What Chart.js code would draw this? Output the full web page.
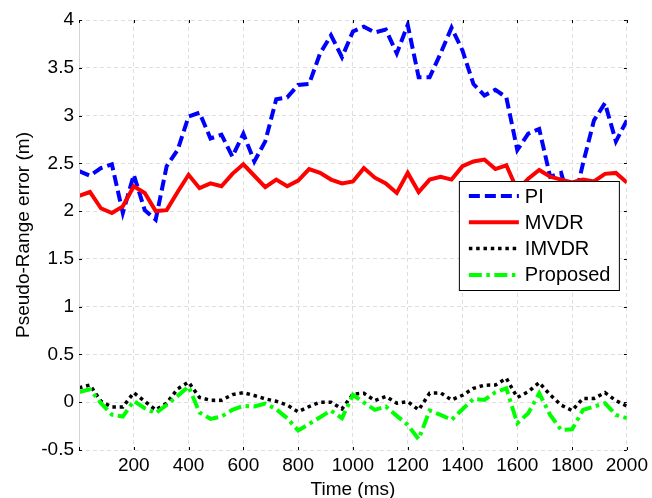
<!DOCTYPE html>
<html>
<head>
<meta charset="utf-8">
<script src="https://cdn.jsdelivr.net/npm/chart.js@4.4.1/dist/chart.umd.min.js"></script>
<style>
  html, body { margin: 0; padding: 0; background: #fff; }
  #wrap { width: 652px; height: 498px; }
</style>
</head>
<body>
<div id="wrap"><canvas id="c" width="652" height="498"></canvas></div>
<script>
// ---- data ----
const timeMs = [0, 40, 80, 120, 160, 200, 240, 280, 320, 360, 400, 440, 480, 520, 560, 600, 640, 680, 720, 760,
  800, 840, 880, 920, 960, 1000, 1040, 1080, 1120, 1160, 1200, 1240, 1280, 1320, 1360, 1400, 1440, 1480, 1520, 1560,
  1600, 1640, 1680, 1720, 1760, 1800, 1840, 1880, 1920, 1960, 2000];

const piErr = [2.42, 2.37, 2.45, 2.49, 1.98, 2.38, 2.01, 1.91, 2.47, 2.64, 2.99, 3.03, 2.76, 2.80, 2.57, 2.81, 2.52, 2.73, 3.17, 3.19,
  3.32, 3.33, 3.65, 3.84, 3.61, 3.88, 3.93, 3.87, 3.90, 3.65, 3.95, 3.40, 3.40, 3.65, 3.92, 3.68, 3.33, 3.21, 3.27, 3.19,
  2.64, 2.81, 2.86, 2.36, 2.40, 2.00, 2.50, 2.95, 3.13, 2.73, 2.95];

const mvdrErr = [2.16, 2.20, 2.03, 1.98, 2.05, 2.26, 2.19, 2.00, 2.01, 2.20, 2.38, 2.24, 2.29, 2.26, 2.39, 2.49, 2.37, 2.25, 2.33, 2.26,
  2.32, 2.44, 2.40, 2.33, 2.29, 2.31, 2.45, 2.35, 2.29, 2.19, 2.40, 2.20, 2.33, 2.36, 2.33, 2.47, 2.52, 2.54, 2.44, 2.48,
  2.22, 2.34, 2.43, 2.36, 2.33, 2.30, 2.33, 2.31, 2.39, 2.40, 2.30];

const imvdrErr = [0.15, 0.18, 0.01, -0.05, -0.05, 0.10, 0.01, -0.08, -0.01, 0.14, 0.21, 0.05, 0.02, 0.02, 0.08, 0.10, 0.07, 0.035, 0.01, -0.03,
  -0.10, -0.045, 0.00, 0.00, -0.07, 0.085, 0.094, 0.017, 0.06, -0.01, 0.007, -0.08, 0.094, 0.098, 0.024, 0.073, 0.146, 0.178, 0.18, 0.25,
  0.05, 0.11, 0.205, 0.077, -0.03, -0.087, 0.04, 0.04, 0.10, 0.017, -0.04];

const proposedErr = [0.105, 0.136, -0.01, -0.13, -0.15, 0.014, -0.063, -0.115, -0.028, 0.066, 0.164, -0.108, -0.174, -0.15, -0.08, -0.038, -0.045, -0.014, -0.073, -0.167,
  -0.296, -0.227, -0.157, -0.087, -0.167, 0.077, -0.003, -0.08, -0.045, -0.143, -0.237, -0.387, -0.087, -0.133, -0.185, -0.073, 0.035, 0.024, 0.105, 0.146,
  -0.22, -0.115, 0.094, -0.133, -0.29, -0.283, -0.08, -0.045, -0.01, -0.133, -0.167];

const seriesNames = ['PI', 'MVDR', 'IMVDR', 'Proposed'];
const xTickValues = [0, 200, 400, 600, 800, 1000, 1200, 1400, 1600, 1800, 2000];
const yTickValues = [-0.5, 0, 0.5, 1, 1.5, 2, 2.5, 3, 3.5, 4];

// ---- chart ----
const FONT = "'Liberation Sans', Arial, Helvetica, sans-serif";
const toPts = arr => arr.map((v, i) => ({ x: timeMs[i], y: v }));

const frameAndLegend = {
  id: 'frameAndLegend',
  afterDatasetsDraw(chart) {
    const { ctx, chartArea: a, scales } = chart;
    ctx.save();
    // left solid axis line (light)
    ctx.strokeStyle = '#d4d4d4';
    ctx.lineWidth = 1;
    ctx.setLineDash([]);
    ctx.beginPath();
    ctx.moveTo(a.left + 0.5, a.top);
    ctx.lineTo(a.left + 0.5, a.bottom);
    ctx.stroke();
    // tiny black ticks, inside, on all four sides
    ctx.strokeStyle = '#000';
    ctx.beginPath();
    xTickValues.forEach(v => {
      const px = Math.round(scales.x.getPixelForValue(v)) + 0.5;
      ctx.moveTo(px, a.bottom); ctx.lineTo(px, a.bottom - 3);
      ctx.moveTo(px, a.top); ctx.lineTo(px, a.top + 3);
    });
    yTickValues.forEach(v => {
      const py = Math.round(scales.y.getPixelForValue(v)) + 0.5;
      ctx.moveTo(a.left, py); ctx.lineTo(a.left + 3, py);
      ctx.moveTo(a.right, py); ctx.lineTo(a.right - 3, py);
    });
    ctx.stroke();

    // legend box
    const bx = a.right - 168, by = a.top + 161, bw = 160, bh = 109;
    ctx.fillStyle = '#fff';
    ctx.fillRect(bx, by, bw, bh);
    ctx.strokeStyle = '#000';
    ctx.lineWidth = 1;
    ctx.strokeRect(bx + 0.5, by + 0.5, bw, bh);
    ctx.font = '20px ' + FONT;
    ctx.textBaseline = 'middle';
    ctx.textAlign = 'left';
    chart.data.datasets.forEach((ds, i) => {
      const y = by + 15 + i * 26.3;
      ctx.save();
      ctx.strokeStyle = ds.borderColor;
      ctx.lineWidth = ds.borderWidth;
      ctx.setLineDash(ds.borderDash || []);
      ctx.lineCap = 'butt';
      ctx.beginPath();
      ctx.moveTo(bx + 10, y);
      ctx.lineTo(bx + 60, y);
      ctx.stroke();
      ctx.restore();
      ctx.fillStyle = '#000';
      ctx.fillText(ds.label, bx + 66, y + 1);
    });
    ctx.restore();
  }
};

new Chart(document.getElementById('c'), {
  type: 'line',
  data: {
    datasets: [
      { label: seriesNames[0], data: toPts(piErr), borderColor: '#0000ff', borderWidth: 4, borderDash: [11, 5], order: 3 },
      { label: seriesNames[1], data: toPts(mvdrErr), borderColor: '#ff0000', borderWidth: 4, borderDash: [], order: 2 },
      { label: seriesNames[2], data: toPts(imvdrErr), borderColor: '#000000', borderWidth: 3.5, borderDash: [3.5, 3.8], order: 1 },
      { label: seriesNames[3], data: toPts(proposedErr), borderColor: '#00ff00', borderWidth: 4, borderDash: [13, 4.5, 3.5, 4.5], order: 0 }
    ]
  },
  options: {
    responsive: false,
    animation: false,
    layout: { padding: { left: 0, right: 25, top: 20, bottom: 0 } },
    elements: { point: { radius: 0, hoverRadius: 0 }, line: { tension: 0, fill: false, borderCapStyle: 'butt', borderJoinStyle: 'miter' } },
    plugins: { legend: { display: false }, tooltip: { enabled: false } },
    scales: {
      x: {
        type: 'linear', min: 0, max: 2000,
        afterBuildTicks: s => { s.ticks = xTickValues.map(v => ({ value: v })); },
        afterFit: s => { s.height = 48; },
        ticks: {
          padding: 4, color: '#000', font: { family: FONT, size: 19 },
          maxRotation: 0, autoSkip: false,
          callback: v => (v === 0 ? '' : String(v))
        },
        grid: { color: '#dedede', lineWidth: 1, drawTicks: false },
        border: { display: false, dash: [4, 3] },
        title: { display: true, text: 'Time (ms)', color: '#000', font: { family: FONT, size: 19 }, padding: { top: 0, bottom: -3 } }
      },
      y: {
        type: 'linear', min: -0.5, max: 4,
        afterBuildTicks: s => { s.ticks = yTickValues.map(v => ({ value: v })); },
        afterFit: s => { s.width = 79; },
        ticks: {
          padding: 5, color: '#000', font: { family: FONT, size: 19 },
          callback: v => String(v)
        },
        grid: { color: '#dedede', lineWidth: 1, drawTicks: false },
        border: { display: false, dash: [4, 3] },
        title: { display: true, text: 'Pseudo-Range error (m)', color: '#000', font: { family: FONT, size: 19 }, padding: { top: 12, bottom: 0 } }
      }
    }
  },
  plugins: [frameAndLegend]
});
</script>
</body>
</html>
